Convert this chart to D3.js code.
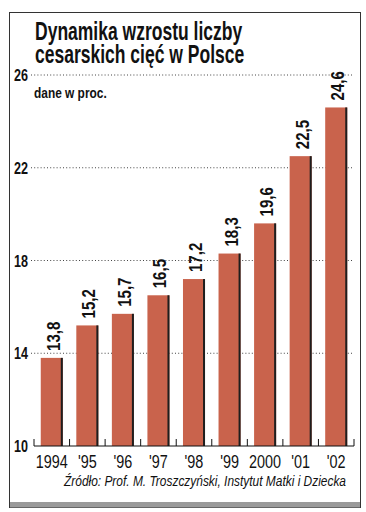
<!DOCTYPE html>
<html>
<head>
<meta charset="utf-8">
<script src="https://cdn.jsdelivr.net/npm/d3@7"></script>
<style>
  html, body { margin: 0; padding: 0; background: #fff; }
  svg { display: block; }
  text { font-family: "Liberation Sans", Arial, sans-serif; }
</style>
</head>
<body>
<div id="chart"></div>
<script>
const years  = ['1994', "'95", "'96", "'97", "'98", "'99", '2000', "'01", "'02"];
const values = [13.8, 15.2, 15.7, 16.5, 17.2, 18.3, 19.6, 22.5, 24.6];
const labels = ['13,8', '15,2', '15,7', '16,5', '17,2', '18,3', '19,6', '22,5', '24,6'];
const yTicks = [10, 14, 18, 22, 26];
const titleLines = ['Dynamika wzrostu liczby', 'cesarskich cięć w Polsce'];

const width = 366, height = 512;
const barColor = '#c9634c';

// squeeze text horizontally (no condensed fonts installed)
function condense(sel, k) {
  sel.each(function() {
    const w = this.getComputedTextLength();
    d3.select(this)
      .attr('textLength', (w * k).toFixed(1))
      .attr('lengthAdjust', 'spacingAndGlyphs');
  });
}

const svg = d3.select('#chart').append('svg')
  .attr('width', width)
  .attr('height', height);

// frame
svg.append('rect')
  .attr('x', 9.5).attr('y', 12.5)
  .attr('width', 351).attr('height', 495)
  .attr('fill', '#fff')
  .attr('stroke', '#333')
  .attr('stroke-width', 1);
svg.append('rect')
  .attr('x', 10).attr('y', 502)
  .attr('width', 350).attr('height', 5.5)
  .attr('fill', '#9a9a9a');

const x = d3.scaleBand()
  .domain(years)
  .range([34, 354])
  .paddingInner(0.38)
  .paddingOuter(0.19);

const y = d3.scaleLinear()
  .domain([10, 26])
  .range([446, 75]);

// gridlines
svg.append('g')
  .selectAll('line')
  .data(yTicks.slice(1))
  .join('line')
  .attr('x1', 31)
  .attr('x2', 352)
  .attr('y1', d => y(d))
  .attr('y2', d => y(d))
  .attr('stroke', '#444')
  .attr('stroke-width', 1)
  .attr('stroke-dasharray', '1,2.2');

// y tick labels
svg.append('g')
  .selectAll('text')
  .data(yTicks)
  .join('text')
  .attr('x', 28)
  .attr('y', d => y(d) + 6)
  .attr('text-anchor', 'end')
  .attr('font-size', 17)
  .attr('font-weight', 'bold')
  .attr('fill', '#111')
  .text(d => d)
  .call(condense, 0.74);

// bars
const bars = svg.append('g');
bars.selectAll('rect.bar')
  .data(values)
  .join('rect')
  .attr('class', 'bar')
  .attr('x', (d, i) => x(years[i]))
  .attr('y', d => y(d))
  .attr('width', x.bandwidth())
  .attr('height', d => y(10) - y(d))
  .attr('fill', barColor);
bars.selectAll('rect.edge')
  .data(values)
  .join('rect')
  .attr('class', 'edge')
  .attr('x', (d, i) => x(years[i]) + x.bandwidth() - 2)
  .attr('y', d => y(d))
  .attr('width', 2)
  .attr('height', d => y(10) - y(d))
  .attr('fill', '#1e1e1e');

// value labels (rotated)
svg.append('g')
  .selectAll('text')
  .data(values)
  .join('text')
  .attr('transform', (d, i) => `translate(${x(years[i]) + x.bandwidth() / 2 + 8},${y(d) - 7}) rotate(-90)`)
  .attr('font-size', 17.5)
  .attr('font-weight', 'bold')
  .attr('fill', '#111')
  .text((d, i) => labels[i])
  .call(condense, 0.86);

// x axis: baseline with upward ticks between bars
const axisG = svg.append('g');
axisG.append('line')
  .attr('x1', 34).attr('x2', 354)
  .attr('y1', 446).attr('y2', 446)
  .attr('stroke', '#111').attr('stroke-width', 1.2);
const bounds = years.map(d => x(d) - x.step() * x.paddingInner() / 2);
bounds.push(354);
bounds[0] = 34;
axisG.selectAll('line.tick')
  .data(bounds)
  .join('line')
  .attr('class', 'tick')
  .attr('x1', d => d).attr('x2', d => d)
  .attr('y1', 446).attr('y2', 439)
  .attr('stroke', '#111').attr('stroke-width', 1);

axisG.selectAll('text')
  .data(years)
  .join('text')
  .attr('x', d => x(d) + x.bandwidth() / 2)
  .attr('y', 468)
  .attr('text-anchor', 'middle')
  .attr('font-size', 18)
  .attr('fill', '#111')
  .text(d => d)
  .call(condense, 0.8);

// title
svg.append('g')
  .selectAll('text')
  .data(titleLines)
  .join('text')
  .attr('x', 35)
  .attr('y', (d, i) => 40 + i * 23)
  .attr('font-size', 25)
  .attr('font-weight', 'bold')
  .attr('fill', '#111')
  .text(d => d)
  .call(condense, 0.7);

svg.append('text')
  .attr('x', 34)
  .attr('y', 98)
  .attr('font-size', 14)
  .attr('font-weight', 'bold')
  .attr('fill', '#111')
  .text('dane w proc.')
  .call(condense, 0.85);

svg.append('text')
  .attr('x', 346)
  .attr('y', 486)
  .attr('text-anchor', 'end')
  .attr('font-size', 15)
  .attr('font-style', 'italic')
  .attr('fill', '#111')
  .text('Źródło: Prof. M. Troszczyński, Instytut Matki i Dziecka')
  .attr('textLength', 282)
  .attr('lengthAdjust', 'spacingAndGlyphs');
</script>
</body>
</html>
